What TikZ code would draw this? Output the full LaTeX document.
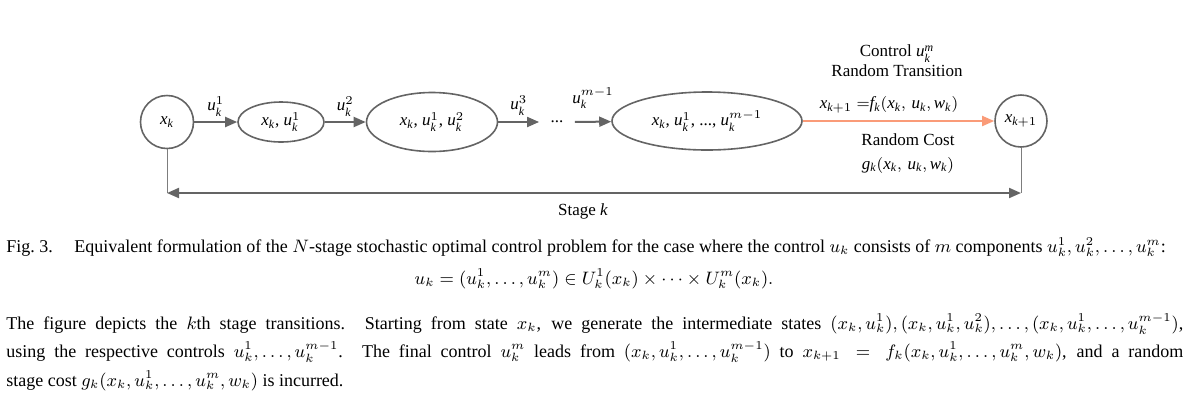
\documentclass[tikz,border=0pt]{standalone}
\usepackage{amsmath}
\usepackage{fontspec}
\setmainfont{Liberation Serif}
\usetikzlibrary{positioning,shapes.geometric,arrows.meta}
\definecolor{linegray}{RGB}{100,100,100}
\definecolor{stagegray}{RGB}{125,125,125}
\definecolor{costorange}{RGB}{250,155,120}
\newcommand{\xk}{\mathit{x}_{\mathit{k}}}
\newcommand{\uk}[1]{\mathit{u}_{\mathit{k}}^{#1}}
\newcommand{\dfont}{\rmfamily\fontsize{8.5}{10}\selectfont}
\tikzset{
  state/.style={circle,draw=linegray,line width=0.8pt,minimum size=26.5pt,inner sep=0pt,font=\dfont},
  inter/.style={ellipse,draw=linegray,line width=0.8pt,inner sep=0pt,font=\dfont},
  ctrl/.style={-{Triangle[length=6pt,width=5pt]},draw=linegray,line width=1pt},
  lab/.style={font=\dfont,inner sep=1pt},
  captext/.style={font=\fontsize{9}{14.25}\selectfont,inner sep=0pt}
}
\begin{document}
\begin{tikzpicture}[x=0.5pt,y=-0.5pt]
  \useasboundingbox (0,0) rectangle (1191,409);
  % states of stage k
  \node[state] (xk) at (167,122) {$\xk$};
  \node[inter,minimum width=43pt,minimum height=20pt] (s1) at (281,122) {$\xk$, $\uk{1}$};
  \node[inter,minimum width=65.5pt,minimum height=29.5pt] (s2) at (432,122) {$\xk$, $\uk{1}$, $\uk{2}$};
  \node[lab,minimum width=17.5pt,inner sep=0pt] (dots) at (557,122) {...};
  \node[inter,minimum width=95pt,minimum height=29pt] (s3) at (707,121) {$\xk$, $\uk{1}$, ..., $\uk{m-1}$};
  \node[state,minimum size=26pt] (xk1) at (1021,121) {$\mathit{x}_{\mathit{k}+1}$};
  % controls
  \draw[ctrl] (xk) -- node[lab,above=1.5pt] {$\uk{1}$} (s1);
  \draw[ctrl] (s1) -- node[lab,above=1.5pt] {$\uk{2}$} (s2);
  \draw[ctrl] (s2) -- node[lab,above=2pt] {$\uk{3}$} (dots);
  \draw[ctrl] (dots) -- node[lab,above=5pt] {$\uk{m-1}$} (s3);
  \draw[ctrl,draw=costorange,line width=0.9pt,-{Triangle[length=6pt,width=5pt,fill=costorange]}] (s3) -- (xk1);
  \node[lab,align=center] (trans) at (897,61) {Control $\uk{\mathit{m}}$\\Random Transition};
  \node[lab] (fk) at (889,105) {$\mathit{x}_{\mathit{k}+1}\ {=}\mathit{f}_{\mathit{k}}(\xk,\,\mathit{u}_{\mathit{k}},\mathit{w}_{\mathit{k}})$};
  \node[lab] (cost) at (908,140) {Random Cost};
  \node[lab] (gk) at (908,165) {$\mathit{g}_{\mathit{k}}(\xk,\,\mathit{u}_{\mathit{k}},\mathit{w}_{\mathit{k}})$};
  % stage k span
  \coordinate (left) at (xk.south |- 0,193);
  \coordinate (right) at (xk1.south |- 0,193);
  \draw[stagegray,line width=0.5pt] (xk.south) -- (left);
  \draw[stagegray,line width=0.5pt] (xk1.south) -- (right);
  \draw[linegray,line width=1pt,{Triangle[length=6pt,width=5pt]}-{Triangle[length=6pt,width=5pt]}] (left) -- (right);
  \node[lab] (stage) at (583,211) {Stage \textit{k}};
  % caption
  \node[captext,anchor=north west,text width=588.5pt,align=justify] (cap) at (6,237)
    {\parfillskip=0pt Fig.~3.\hspace{1.2em}Equivalent formulation of the $N$-stage stochastic optimal control problem for the case where the control $u_k$ consists of $m$ components $u_k^1,u_k^2,\dots,u_k^m$:};
  \node[captext] (eq) at (594,279)
    {$u_k=(u_k^1,\dots,u_k^m)\in U_k^1(x_k)\times\cdots\times U_k^m(x_k).$};
  \node[captext,anchor=north west,text width=588.5pt,align=justify] (para) at (6,313)
    {The figure depicts the $k$th stage transitions. Starting from state $x_k$, we generate the intermediate states $(x_k,u_k^1),(x_k,u_k^1,u_k^2),\dots,(x_k,u_k^1,\dots,u_k^{m-1})$,\linebreak
     using the respective controls $u_k^1,\dots,u_k^{m-1}$. The final control $u_k^m$ leads from $(x_k,u_k^1,\dots,u_k^{m-1})$ to $x_{k+1}=f_k(x_k,u_k^1,\dots,u_k^m,w_k)$, and a random\linebreak
     stage cost $g_k(x_k,u_k^1,\dots,u_k^m,w_k)$ is incurred.};
\end{tikzpicture}
\end{document}
